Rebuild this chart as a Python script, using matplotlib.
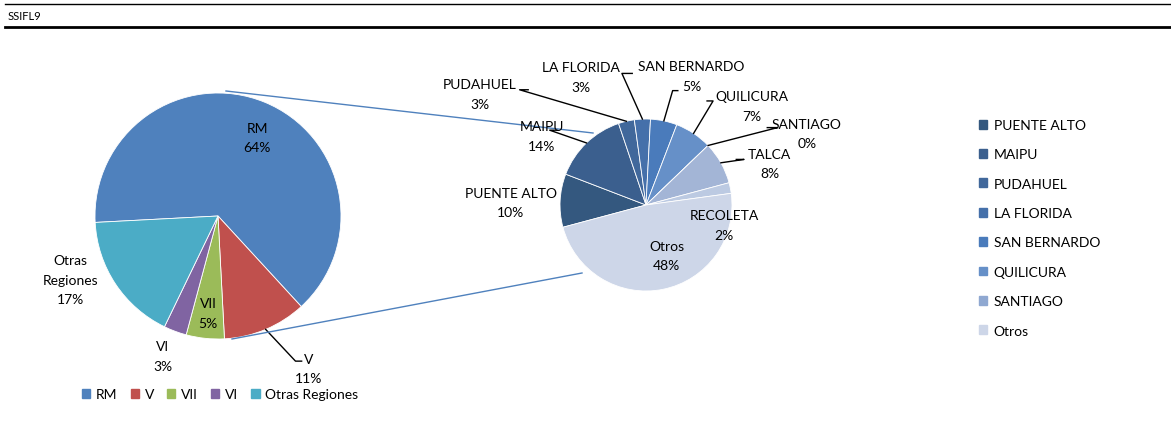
import numpy as np
import matplotlib
matplotlib.use("Agg")
import matplotlib.pyplot as plt
from matplotlib.patches import Patch

plt.rcParams["font.family"] = ["Lato", "DejaVu Sans"]

# primer gráfico: regiones
regiones = ["RM", "V", "VII", "VI", "Otras Regiones"]
regiones_pct = [64, 11, 5, 3, 17]
regiones_txt = ["RM", "V", "VII", "VI", "Otras\nRegiones"]

# segundo gráfico: comunas
comunas = ["PUENTE ALTO", "MAIPU", "PUDAHUEL", "LA FLORIDA", "SAN BERNARDO",
           "QUILICURA", "SANTIAGO", "TALCA", "RECOLETA", "Otros"]
comunas_pct = [10, 14, 3, 3, 5, 7, 0, 8, 2, 48]
comunas_leyenda = ["PUENTE ALTO", "MAIPU", "PUDAHUEL", "LA FLORIDA", "SAN BERNARDO",
                   "QUILICURA", "SANTIAGO", "Otros"]

col_reg = ["#4f81bd", "#c0504d", "#9bbb59", "#8064a2", "#4bacc6"]
col_com = ["#34587f", "#3b5f8e", "#41689b", "#4570aa", "#4a7bbb",
           "#6690c8", "#8fa8d1", "#a3b5d6", "#bccae2", "#cdd6e8"]

W, H = 1171, 427
fig = plt.figure(figsize=(W / 100, H / 100), dpi=100)
ax = fig.add_axes([0, 0, 1, 1])

# centros y radios en pixeles (y hacia arriba)
c1, r1 = (218, H - 217), 123
c2, r2 = (646, H - 206), 86

ax.pie(regiones_pct, colors=col_reg, startangle=183, counterclock=False,
       center=c1, radius=r1, frame=True,
       wedgeprops=dict(edgecolor="white", linewidth=0.6))
ax.pie(comunas_pct, colors=col_com, startangle=195, counterclock=False,
       center=c2, radius=r2, frame=True,
       wedgeprops=dict(edgecolor="white", linewidth=0.6))

# posiciones de etiquetas (en radios, relativo al centro)
pos_reg = [(0.32, 0.64), (0.74, -1.24), (-0.08, -0.79), (-0.45, -1.14), (-1.20, -0.52)]
pos_com = [(-1.57, 0.03), (-1.21, 0.80), (-1.93, 1.29), (-0.76, 1.49), (0.53, 1.50),
           (1.23, 1.15), (1.87, 0.83), (1.44, 0.48), (0.91, -0.23), (0.24, -0.59)]
# codos de las líneas guía (en radios), None = sin línea
codo_com = [None, [(-1.12, 0.87), (-1.03, 0.87)], [(-1.47, 1.34), (-1.37, 1.34)],
            [(-0.28, 1.53), (-0.16, 1.53)], [(0.31, 1.33), (0.37, 1.33)],
            [(0.78, 1.21), (0.71, 1.21)], [(1.53, 0.90), (1.41, 0.90)],
            [(1.14, 0.53), (1.05, 0.53)], None, None]
codo_reg = [None, [(0.63, -1.18), (0.68, -1.18)], None, None, None]

fs = 10


def etiquetas(vals, txts, pos, codos, c, r, start):
    ang = start
    for v, t, p, cd in zip(vals, txts, pos, codos):
        mid = np.deg2rad(ang - v * 3.6 / 2)
        ang -= v * 3.6
        ax.text(c[0] + p[0] * r, c[1] + p[1] * r, f"{t}\n{v}%", ha="center", va="center",
                fontsize=fs, linespacing=1.75, color="black")
        if cd:
            xs = [c[0] + r * np.cos(mid)] + [c[0] + q[0] * r for q in cd]
            ys = [c[1] + r * np.sin(mid)] + [c[1] + q[1] * r for q in cd]
            ax.plot(xs, ys, color="black", lw=1)


etiquetas(regiones_pct, regiones_txt, pos_reg, codo_reg, c1, r1, 183)
etiquetas(comunas_pct, comunas, pos_com, codo_com, c2, r2, 195)

# líneas de conexión entre gráficos
ax.plot([226, 593], [H - 92, H - 134], color="#4f81bd", lw=1)
ax.plot([232, 582], [H - 340, H - 274], color="#4f81bd", lw=1)

# encabezado
ax.plot([5, W], [H - 5, H - 5], color="black", lw=1)
ax.plot([5, W], [H - 27.5, H - 27.5], color="black", lw=2)
ax.text(8, H - 17, "SSIFL9", fontsize=8, va="center", ha="left")

ax.set_xlim(0, W)
ax.set_ylim(0, H)
ax.set_aspect("auto")
ax.axis("off")

# leyendas
h1 = [Patch(color=c) for c in col_reg]
fig.legend(h1, regiones, loc="center left", bbox_to_anchor=(82 / W, 1 - 395 / H),
           ncol=5, frameon=False, fontsize=fs, handlelength=0.6, handleheight=0.6,
           handletextpad=0.4, columnspacing=0.95, borderaxespad=0, borderpad=0)

idx = [comunas.index(n) for n in comunas_leyenda]
h2 = [Patch(color=col_com[i]) for i in idx]
fig.legend(h2, comunas_leyenda, loc="upper left", bbox_to_anchor=(979 / W, 1 - 120 / H),
           frameon=False, fontsize=fs, handlelength=0.6, handleheight=0.6,
           handletextpad=0.45, labelspacing=1.25, borderaxespad=0, borderpad=0)

fig.savefig("out.png", dpi=100)
